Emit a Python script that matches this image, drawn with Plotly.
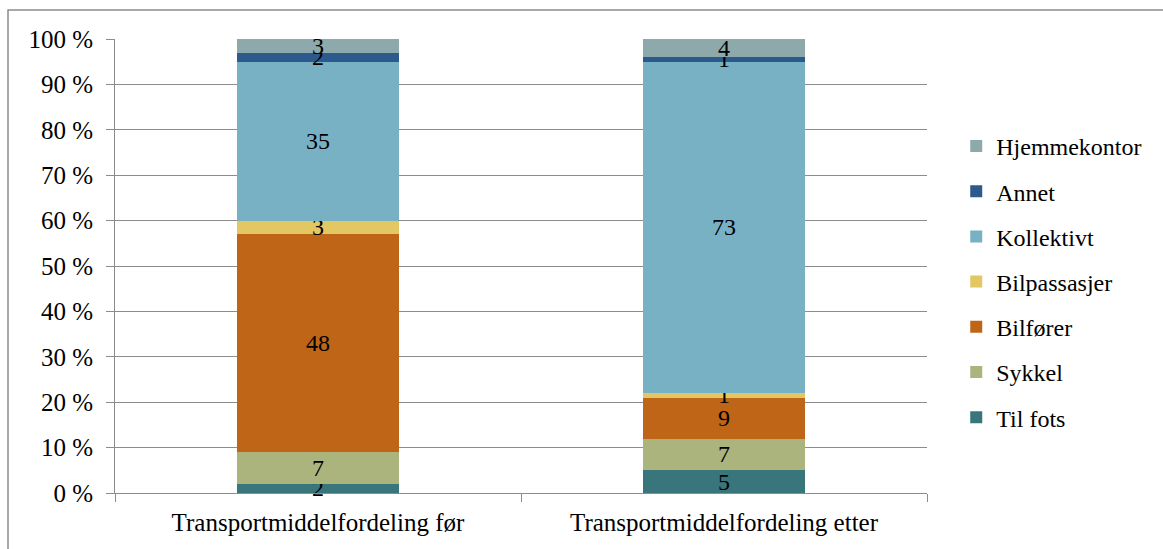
import plotly.graph_objects as go

categories = ["Transportmiddelfordeling før", "Transportmiddelfordeling etter"]
series_names = ["Til fots", "Sykkel", "Bilfører", "Bilpassasjer", "Kollektivt", "Annet", "Hjemmekontor"]
til_fots = [2, 5]
sykkel = [7, 7]
bilforer = [48, 9]
bilpassasjer = [3, 1]
kollektivt = [35, 73]
annet = [2, 1]
hjemmekontor = [3, 4]
series_values = [til_fots, sykkel, bilforer, bilpassasjer, kollektivt, annet, hjemmekontor]
colors = ["#38767C", "#ACB47E", "#BE6517", "#E2C762", "#79B1C4", "#2C5A8C", "#8EA9AB"]
y_ticks = list(range(0, 101, 10))
y_tick_labels = [f"{v} %" for v in y_ticks]

FONT = "'Liberation Serif', 'Times New Roman', 'DejaVu Serif', serif"

fig = go.Figure()
n = len(series_names)
for i, (name, vals, col) in enumerate(zip(series_names, series_values, colors)):
    fig.add_trace(go.Bar(
        x=categories, y=vals, name=name, legendgroup=name,
        legendrank=n - i,
        marker=dict(color=col, line=dict(width=0)),
        text=[str(v) for v in vals], textposition="inside",
        insidetextanchor="middle", textangle=0, constraintext="none",
        cliponaxis=False,
        textfont=dict(family=FONT, size=24, color="#000000"),
        hoverinfo="skip",
    ))

grid_col = "#8C8C8C"
fig.update_layout(
    barmode="stack",
    bargap=0.6,
    width=1163, height=549,
    margin=dict(l=115, r=236, t=39, b=56),
    paper_bgcolor="white", plot_bgcolor="white",
    font=dict(family=FONT, size=24, color="#000000"),
    showlegend=True,
    legend=dict(
        x=1.036, y=0.465, xanchor="left", yanchor="middle",
        traceorder="grouped", tracegroupgap=11,
        font=dict(family=FONT, size=24, color="#000000"),
        itemwidth=30, bgcolor="rgba(0,0,0,0)",
    ),
    xaxis=dict(
        type="category", showgrid=False,
        showline=True, linecolor=grid_col, linewidth=1,
        ticks="outside", tickson="boundaries", ticklen=8,
        tickcolor=grid_col, tickwidth=1,
        tickfont=dict(family=FONT, size=25),
        ticklabelstandoff=7,
        range=[-0.5, 1.5],
    ),
    yaxis=dict(
        range=[0, 100], tickvals=y_ticks, ticktext=y_tick_labels,
        showgrid=True, gridcolor=grid_col, gridwidth=1,
        showline=True, linecolor=grid_col, linewidth=1,
        ticks="outside", ticklen=8, tickcolor=grid_col, tickwidth=1,
        tickfont=dict(family=FONT, size=25),
        ticklabelstandoff=8,
        zeroline=False,
    ),
    shapes=[dict(
        type="rect", xref="paper", yref="paper",
        x0=(8 - 115) / 812, x1=(1175 - 115) / 812,
        y0=(493 - 560) / 454, y1=1 + (39 - 10) / 454,
        line=dict(color=grid_col, width=1.5), fillcolor="rgba(0,0,0,0)",
        layer="below",
    )],
)

fig.write_html("out.html")
